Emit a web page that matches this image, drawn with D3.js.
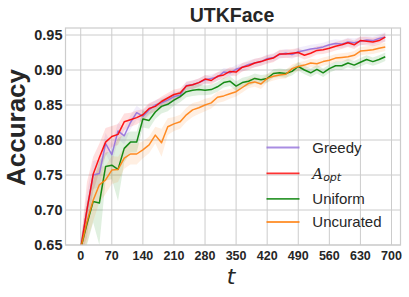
<!DOCTYPE html>
<html>
<head>
<meta charset="utf-8">
<script src="https://cdn.jsdelivr.net/npm/d3@7"></script>
<style>
  body { margin: 0; background: #fff; }
  svg { display: block; font-family: "Liberation Sans", Arial, sans-serif; }
</style>
</head>
<body>
<div id="chart"></div>
<script>
// rounds t, 0 to 686 every 14
const steps = d3.range(0, 687, 14);

const greedy = [0.645, 0.700, 0.750, 0.752, 0.795, 0.779, 0.813, 0.806, 0.825, 0.839,
  0.834, 0.843, 0.850, 0.853, 0.857, 0.862, 0.864, 0.878, 0.879, 0.882,
  0.886, 0.888, 0.890, 0.897, 0.896, 0.901, 0.904, 0.908, 0.910, 0.912,
  0.916, 0.918, 0.922, 0.924, 0.922, 0.926, 0.928, 0.930, 0.931, 0.933,
  0.936, 0.938, 0.937, 0.940, 0.939, 0.941, 0.943, 0.942, 0.945, 0.947];
const aopt = [0.645, 0.700, 0.751, 0.775, 0.797, 0.805, 0.808, 0.826, 0.829, 0.832,
  0.836, 0.845, 0.848, 0.855, 0.860, 0.865, 0.867, 0.877, 0.879, 0.882,
  0.887, 0.885, 0.891, 0.893, 0.898, 0.897, 0.904, 0.906, 0.910, 0.912,
  0.915, 0.917, 0.923, 0.923, 0.924, 0.925, 0.921, 0.924, 0.928, 0.929,
  0.931, 0.934, 0.936, 0.939, 0.936, 0.942, 0.941, 0.940, 0.942, 0.947];
const uniform = [0.645, 0.680, 0.712, 0.710, 0.762, 0.764, 0.758, 0.788, 0.797, 0.797,
  0.830, 0.828, 0.840, 0.848, 0.851, 0.857, 0.862, 0.869, 0.871, 0.872,
  0.871, 0.872, 0.876, 0.882, 0.884, 0.877, 0.882, 0.884, 0.888, 0.886,
  0.888, 0.895, 0.896, 0.895, 0.898, 0.905, 0.900, 0.896, 0.901, 0.896,
  0.902, 0.906, 0.906, 0.910, 0.907, 0.911, 0.915, 0.912, 0.915, 0.919];
const uncurated = [0.645, 0.683, 0.714, 0.736, 0.743, 0.757, 0.758, 0.774, 0.780, 0.780,
  0.786, 0.793, 0.807, 0.796, 0.819, 0.823, 0.826, 0.836, 0.843, 0.846,
  0.850, 0.853, 0.861, 0.863, 0.866, 0.869, 0.875, 0.881, 0.883, 0.880,
  0.888, 0.891, 0.893, 0.894, 0.902, 0.905, 0.907, 0.910, 0.909, 0.912,
  0.914, 0.917, 0.918, 0.919, 0.921, 0.927, 0.928, 0.929, 0.931, 0.933];

// half width of the shaded band
const greedySpread = [0.01, 0.025, 0.02, 0.02, 0.015, 0.015, 0.012, 0.012, 0.01, 0.01,
  0.008, 0.008, 0.007, 0.007, 0.007, 0.007, 0.006, 0.006, 0.006, 0.006,
  0.006, 0.006, 0.006, 0.006, 0.006, 0.006, 0.006, 0.006, 0.006, 0.006,
  0.006, 0.006, 0.006, 0.006, 0.006, 0.006, 0.006, 0.006, 0.006, 0.006,
  0.006, 0.006, 0.006, 0.006, 0.006, 0.006, 0.006, 0.006, 0.006, 0.007];
const aoptSpread = [0.01, 0.04, 0.025, 0.02, 0.02, 0.015, 0.015, 0.012, 0.01, 0.01,
  0.008, 0.008, 0.008, 0.007, 0.007, 0.007, 0.007, 0.006, 0.006, 0.006,
  0.006, 0.006, 0.006, 0.006, 0.006, 0.006, 0.006, 0.006, 0.006, 0.006,
  0.006, 0.006, 0.006, 0.006, 0.006, 0.006, 0.006, 0.006, 0.006, 0.006,
  0.006, 0.006, 0.006, 0.006, 0.006, 0.006, 0.006, 0.006, 0.006, 0.006];
const uniformSpread = [0.01, 0.03, 0.03, 0.06, 0.02, 0.02, 0.045, 0.02, 0.015, 0.015,
  0.012, 0.012, 0.01, 0.01, 0.01, 0.008, 0.008, 0.008, 0.008, 0.008,
  0.007, 0.007, 0.007, 0.007, 0.007, 0.007, 0.007, 0.007, 0.007, 0.007,
  0.006, 0.006, 0.006, 0.006, 0.006, 0.006, 0.006, 0.006, 0.006, 0.006,
  0.006, 0.006, 0.006, 0.006, 0.006, 0.006, 0.006, 0.006, 0.006, 0.006];
const uncuratedSpread = [0.01, 0.03, 0.03, 0.025, 0.02, 0.02, 0.018, 0.015, 0.015, 0.015,
  0.012, 0.012, 0.012, 0.02, 0.012, 0.01, 0.01, 0.01, 0.01, 0.009,
  0.009, 0.008, 0.008, 0.008, 0.007, 0.007, 0.007, 0.007, 0.007, 0.007,
  0.006, 0.006, 0.006, 0.006, 0.006, 0.006, 0.006, 0.006, 0.006, 0.006,
  0.006, 0.006, 0.006, 0.006, 0.006, 0.006, 0.006, 0.006, 0.006, 0.006];

const xTicks = d3.range(0, 701, 70);
const yTicks = [0.65, 0.70, 0.75, 0.80, 0.85, 0.90, 0.95];

const series = [
  { name: "Greedy", values: greedy, spread: greedySpread, color: "#9370db" },
  { name: "A_opt", values: aopt, spread: aoptSpread, color: "#ff0000" },
  { name: "Uniform", values: uniform, spread: uniformSpread, color: "#008000" },
  { name: "Uncurated", values: uncurated, spread: uncuratedSpread, color: "#ff7f0e" },
];

const width = 409, height = 297;
const margin = { top: 28, right: 8.5, bottom: 52, left: 65.5 };

const x = d3.scaleLinear()
  .domain([-34.3, 720.3])
  .range([margin.left, width - margin.right]);
const y = d3.scaleLinear()
  .domain([0.65, 0.96])
  .range([height - margin.bottom, margin.top]);

const svg = d3.select("#chart").append("svg")
  .attr("width", width)
  .attr("height", height);

svg.append("defs").append("clipPath").attr("id", "clip")
  .append("rect")
  .attr("x", margin.left).attr("y", margin.top)
  .attr("width", width - margin.left - margin.right)
  .attr("height", height - margin.top - margin.bottom);

// grid
const grid = svg.append("g").attr("stroke", "#cccccc").attr("stroke-width", 1);
grid.selectAll(".gx").data(xTicks).join("line")
  .attr("x1", d => x(d)).attr("x2", d => x(d))
  .attr("y1", margin.top).attr("y2", height - margin.bottom);
grid.selectAll(".gy").data(yTicks).join("line")
  .attr("x1", margin.left).attr("x2", width - margin.right)
  .attr("y1", d => y(d)).attr("y2", d => y(d));

const plot = svg.append("g").attr("clip-path", "url(#clip)");

const area = d3.area()
  .x((d, i) => x(steps[i]))
  .y0(d => y(d[0]))
  .y1(d => y(d[1]));
const line = d3.line()
  .x((d, i) => x(steps[i]))
  .y(d => y(d));

series.forEach(s => {
  const band = s.values.map((v, i) => [v - s.spread[i], v + s.spread[i]]);
  plot.append("path")
    .attr("d", area(band))
    .attr("fill", s.color)
    .attr("fill-opacity", 0.12);
});
series.forEach(s => {
  plot.append("path")
    .attr("d", line(s.values))
    .attr("fill", "none")
    .attr("stroke", s.color)
    .attr("stroke-opacity", 0.9)
    .attr("stroke-width", 1.5)
    .attr("stroke-linejoin", "round");
});

// frame
svg.append("rect")
  .attr("x", margin.left).attr("y", margin.top)
  .attr("width", width - margin.left - margin.right)
  .attr("height", height - margin.top - margin.bottom)
  .attr("fill", "none")
  .attr("stroke", "#cccccc")
  .attr("stroke-width", 1.2);

// tick labels
svg.append("g")
  .attr("font-size", 12.5).attr("font-weight", "bold").attr("fill", "#262626")
  .attr("text-anchor", "middle")
  .selectAll("text").data(xTicks).join("text")
  .attr("x", d => x(d)).attr("y", 259.5)
  .text(d => d);
svg.append("g")
  .attr("font-size", 14.5).attr("font-weight", "bold").attr("fill", "#262626")
  .attr("text-anchor", "end")
  .selectAll("text").data(yTicks).join("text")
  .attr("x", 62.5).attr("y", d => y(d)).attr("dy", "0.36em")
  .text(d => d3.format(".2f")(d));

// title and axis labels
svg.append("text")
  .attr("x", 232).attr("y", 21.7)
  .attr("text-anchor", "middle")
  .attr("font-size", 19.5).attr("font-weight", "bold").attr("fill", "#262626")
  .text("UTKFace");
svg.append("text")
  .attr("transform", "translate(24.5,127.5) rotate(-90)")
  .attr("text-anchor", "middle")
  .attr("font-size", 26).attr("font-weight", "bold").attr("fill", "#262626")
  .text("Accuracy");
svg.append("text")
  .attr("x", 231).attr("y", 284)
  .attr("text-anchor", "middle")
  .attr("font-family", "DejaVu Sans")
  .attr("font-style", "italic")
  .attr("font-size", 22).attr("fill", "#262626")
  .text("t");

// legend
const legendY = [147.5, 173.3, 198.8, 222];
const legend = svg.append("g");
series.forEach((s, i) => {
  legend.append("line")
    .attr("x1", 266.5).attr("x2", 299.5)
    .attr("y1", legendY[i]).attr("y2", legendY[i])
    .attr("stroke", s.color).attr("stroke-opacity", 0.8).attr("stroke-width", 1.8);
  const t = legend.append("text")
    .attr("x", 312.3).attr("y", legendY[i]).attr("dy", "0.36em")
    .attr("font-size", 15).attr("fill", "#262626");
  if (s.name === "A_opt") {
    t.append("tspan").attr("font-family", "DejaVu Serif").attr("font-style", "italic")
      .attr("font-size", 15).text("A");
    t.append("tspan").attr("font-family", "DejaVu Sans").attr("font-style", "italic")
      .attr("font-size", 11).attr("dy", "0.25em").text("opt");
  } else {
    t.text(s.name);
  }
});
</script>
</body>
</html>
